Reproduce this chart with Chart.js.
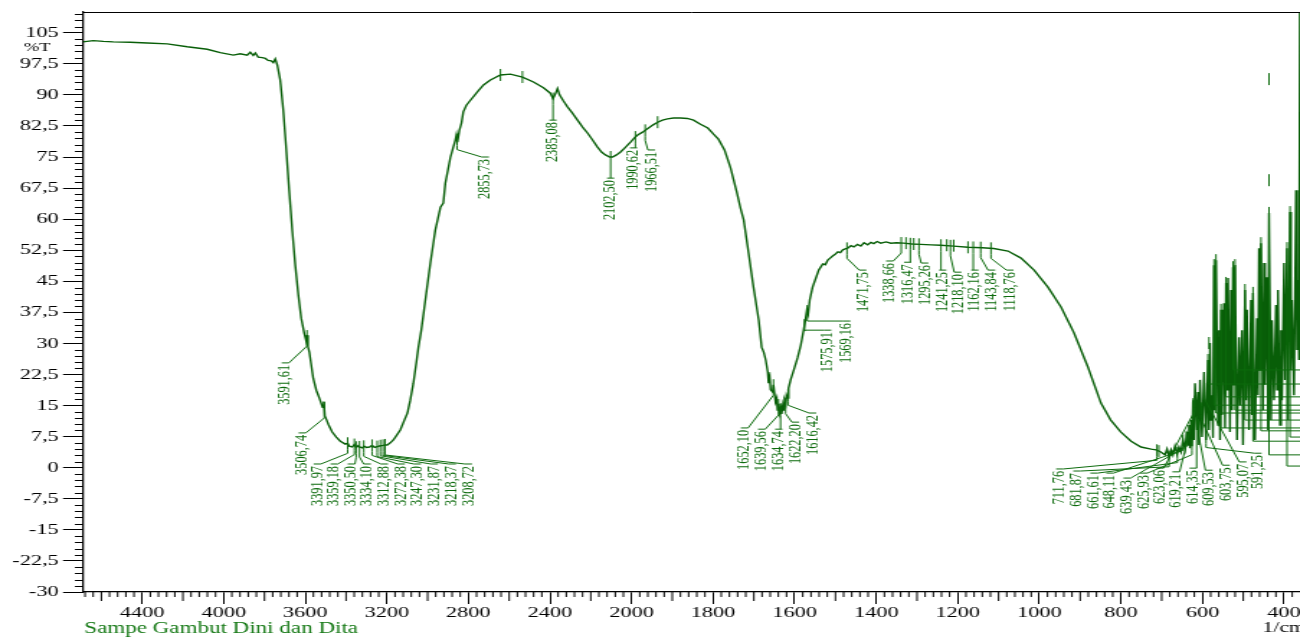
<!DOCTYPE html>
<html>
<head>
<meta charset="utf-8">
<script src="https://cdn.jsdelivr.net/npm/chart.js@4.4.1/dist/chart.umd.min.js"></script>
<style>
  html, body { margin: 0; padding: 0; background: #fff; overflow: hidden; }
  /* the spectrum sheet is printed with a horizontally stretched grid */
  #sheet { width: 903px; height: 637px; transform: scaleX(1.4396); transform-origin: 0 0; }
</style>
</head>
<body>
<div id="sheet"><canvas id="ftir" width="903" height="637"></canvas></div>
<script>
// ---- spectrum: wavenumber (1/cm) and transmittance (%T) ----
const wavenumber = [
  4690, 4640, 4590, 4542, 4459, 4375, 4277, 4179, 4081, 4017, 3953, 3919, 3885, 3870, 3855, 3845,
  3831, 3811, 3796, 3782, 3767, 3757, 3747, 3737, 3723, 3708, 3693, 3679, 3664, 3649, 3634, 3620,
  3605, 3595, 3591, 3587, 3580, 3561, 3546, 3531, 3515, 3509, 3504, 3495, 3487, 3468, 3448, 3428,
  3404, 3392, 3384, 3370, 3359, 3350, 3340, 3334, 3320, 3312, 3300, 3285, 3272, 3260, 3247, 3232,
  3218, 3208, 3198, 3183, 3168, 3148, 3134, 3114, 3099, 3085, 3070, 3055, 3045, 3031, 3011, 2986,
  2962, 2937, 2923, 2913, 2888, 2874, 2864, 2859, 2854, 2844, 2834, 2825, 2810, 2790, 2756, 2726,
  2692, 2643, 2594, 2535, 2481, 2432, 2398, 2385, 2373, 2363, 2353, 2334, 2314, 2290, 2265, 2240,
  2216, 2191, 2167, 2147, 2128, 2108, 2093, 2074, 2054, 2029, 2005, 1993, 1985, 1973, 1961, 1948,
  1936, 1924, 1912, 1897, 1880, 1863, 1848, 1831, 1813, 1799, 1787, 1772, 1757, 1742, 1733, 1725,
  1713, 1701, 1688, 1681, 1676, 1671, 1666, 1664, 1661, 1659, 1654, 1652, 1647, 1644, 1642, 1639,
  1637, 1634, 1632, 1629, 1627, 1625, 1622, 1620, 1617, 1615, 1610, 1602, 1593, 1585, 1578, 1573,
  1570, 1567, 1563, 1556, 1548, 1541, 1531, 1525, 1519, 1513, 1507, 1500, 1494, 1488, 1482, 1476,
  1470, 1462, 1455, 1446, 1438, 1430, 1421, 1413, 1406, 1398, 1389, 1376, 1364, 1350, 1333, 1312,
  1291, 1265, 1242, 1210, 1175, 1140, 1112, 1077, 1045, 1013, 979, 947, 915, 881, 849, 825,
  800, 775, 751, 726, 714, 702, 692, 687, 682, 677, 672.5, 667.5, 662.6, 657.7, 652.8, 647.9,
  643.0, 638.1, 635.6, 633.1, 630.7, 628.2, 625.8, 623.3, 620.9, 618.4, 613.5, 611.1, 608.6, 606.2, 601.3, 596.3,
  591.4, 586.5, 584.1, 581.6, 579.2, 576.7, 574.3, 571.8, 569.4, 566.9, 562.0, 559.6, 557.1, 554.7, 552.2, 547.3,
  544.8, 542.4, 539.9, 537.5, 532.6, 530.1, 527.7, 525.2, 522.8, 520.3, 515.4, 510.5, 508.1, 503.2, 500.7, 495.8,
  493.3, 490.9, 486.0, 481.1, 478.6, 476.2, 471.3, 466.4, 463.9, 461.5, 459.0, 456.6, 451.7, 449.2, 446.7, 441.8,
  439.4, 436.9, 432.0, 429.6, 424.7, 419.8, 417.3, 414.9, 410.0, 407.5, 405.1, 400.2, 397.7, 392.8, 390.3, 385.4,
  383.0, 380.5, 375.6, 370.7, 368.3, 365.8, 363.4, 361.0
];
const transmittance = [
  102.8, 103.1, 102.9, 102.8, 102.7, 102.5, 102.3, 101.6, 101.0, 100.2, 99.6, 99.9, 99.6, 100.3, 99.5, 100.1,
  99.1, 99.0, 98.8, 98.3, 98.2, 97.8, 98.7, 97.2, 93.6, 86.3, 76.7, 67.0, 57.4, 48.9, 41.7, 36.1,
  32.5, 30.5, 32.0, 29.2, 27.9, 21.6, 18.7, 16.8, 14.6, 16.0, 12.5, 11.5, 10.5, 8.6, 7.4, 6.4,
  5.7, 5.9, 5.2, 5.0, 5.6, 4.9, 5.3, 5.0, 4.8, 5.2, 4.9, 5.0, 5.4, 4.9, 5.1, 5.3,
  5.4, 5.5, 5.5, 6.0, 6.7, 8.1, 9.1, 11.5, 13.2, 16.3, 20.4, 25.5, 29.1, 33.2, 40.5, 49.6,
  57.4, 62.9, 63.9, 68.7, 75.0, 77.4, 79.1, 80.3, 78.6, 81.5, 83.2, 85.9, 87.5, 88.7, 90.7, 92.4,
  93.6, 94.8, 95.0, 94.3, 93.1, 91.7, 90.4, 89.1, 90.3, 91.5, 90.0, 88.5, 87.1, 85.6, 83.9, 82.2,
  80.8, 79.1, 77.4, 76.2, 75.5, 75.0, 75.0, 75.5, 76.2, 77.4, 78.6, 79.6, 80.3, 81.0, 81.8, 82.7,
  83.4, 83.9, 84.2, 84.4, 84.4, 84.3, 83.9, 82.9, 82.0, 80.5, 79.3, 76.7, 72.3, 66.5, 62.7, 59.8,
  51.8, 43.6, 35.6, 29.1, 27.9, 26.0, 23.1, 20.4, 21.6, 18.8, 18.3, 20.0, 15.9, 16.8, 13.9, 15.4,
  13.2, 14.4, 13.0, 15.1, 13.9, 16.3, 15.4, 17.5, 16.8, 19.2, 21.2, 23.6, 26.5, 29.6, 33.2, 36.1,
  38.1, 37.1, 40.5, 43.6, 45.8, 47.7, 49.2, 49.0, 50.1, 50.6, 51.1, 51.6, 52.1, 51.9, 52.6, 52.8,
  53.0, 53.6, 53.3, 53.9, 53.5, 54.3, 53.8, 54.4, 54.1, 54.6, 54.2, 54.5, 54.2, 54.3, 54.2, 54.0,
  53.9, 53.8, 53.7, 53.5, 53.2, 53.1, 52.9, 52.3, 50.6, 47.7, 43.6, 38.8, 32.5, 24.3, 15.6, 11.5,
  8.6, 6.4, 5.0, 4.5, 4.3, 3.8, 3.1, 4.5, 2.6, 4.3, 3.1, 5.2, 3.3, 5.0, 3.8, 6.7,
  4.5, 8.6, 5.5, 10.3, 4.7, 11.5, 5.2, 16.3, 6.7, 20.4, 9.1, 18.3, 5.5, 21.2, 7.4, 23.1,
  6.7, 26.0, 9.1, 30.1, 11.5, 17.5, 7.2, 48.9, 13.9, 50.1, 10.3, 33.2, 6.7, 38.1, 12.7, 39.7,
  9.6, 44.6, 18.8, 45.8, 8.6, 42.9, 13.9, 48.4, 20.0, 48.9, 6.7, 31.5, 15.1, 33.2, 5.5, 42.9,
  16.3, 38.1, 9.1, 40.5, 12.7, 42.2, 6.7, 36.1, 17.5, 53.0, 23.6, 54.2, 13.9, 49.4, 20.0, 46.0,
  9.1, 61.5, 11.5, 35.6, 16.3, 39.3, 18.8, 42.9, 10.3, 33.2, 16.3, 49.4, 21.2, 53.0, 11.5, 61.7,
  23.6, 40.5, 17.5, 67.0, 28.4, 45.3, 26.0, 125.0
];

// ---- axis ticks ----
const xTickLabels = [4400, 4000, 3600, 3200, 2800, 2400, 2000, 1800, 1600, 1400, 1200, 1000, 800, 600, 400];
const yTickValues = [-30, -22.5, -15, -7.5, 0, 7.5, 15, 22.5, 30, 37.5, 45, 52.5, 60, 67.5, 75, 82.5, 90, 97.5, 105];

// ---- picked peaks (1/cm) ----
const peakNu = [
  3591.61, 3506.74, 3391.97, 3359.18, 3350.50, 3334.10, 3312.88, 3272.38, 3247.30, 3231.87, 3218.37, 3208.72,
  2855.73, 2385.08, 2102.50, 1990.62, 1966.51,
  1652.10, 1639.56, 1634.74, 1622.20, 1616.42, 1575.91, 1569.16, 1471.75,
  1338.66, 1316.47, 1295.26, 1241.25, 1218.10, 1162.16, 1143.84, 1118.76,
  711.76, 681.87, 661.61, 648.11, 639.43, 625.93, 623.06, 619.21, 614.35, 609.53, 603.75, 595.07, 591.25
];
// where each peak's caption column sits (wavenumber) and where its top ends (%T)
const tagColumnNu = [
  3698, 3615, 3541, 3458, 3374, 3296, 3212, 3129, 3050, 2967, 2879, 2800,
  2717, 2385.08, 2102.5, 1995, 1951,
  1723, 1681, 1639, 1598, 1556, 1519, 1472, 1433,
  1367, 1323, 1281, 1237, 1200, 1158, 1117, 1072,
  950, 908, 866, 827, 785, 744, 704, 665, 623, 584, 542, 501, 464
];
const tagTopT = [
  25.3, 8.4, 0.9, 0.9, 0.9, 0.9, 0.9, 0.9, 0.9, 0.9, 0.9, 0.9,
  75.0, 83.9, 69.9, 77.2, 76.7,
  9.6, 9.3, 9.3, 11.0, 13.2, 33.2, 35.4, 47.7,
  49.9, 49.6, 49.4, 47.7, 47.2, 47.7, 47.7, 47.7,
  -0.3, -0.8, -1.3, -1.3, -2.5, -1.3, -0.1, -1.0, -0.1, -0.6, 0.6, 1.4, 3.5
];
// peaks of the noisy far-IR part, captioned beyond the right edge of the sheet
const farPeakNu = [586.5, 571.8, 566.9, 554.7, 542.4, 525.2, 520.3, 495.8, 476.2, 456.6, 436.9, 392.8, 385.4];
const farTagTopT = [20.2, 15.1, 13.2, 9.6, 17.1, 23.6, 13.9, 11.5, 6.4, 8.9, 3.1, 0.4, 7.4];
// unlabelled peak marks [1/cm, %T]
const markNu = [2643, 2535, 1936, 1327, 1308, 1227, 1210, 1175, 707, 584.1, 436.9, 436.9];
const markT  = [94.8, 94.3, 83.4, 54.2, 54.0, 53.7, 53.6, 53.2, 4.0, 30.1, 93.8, 69.4];

// The wavenumber axis is printed at half scale above 2000 1/cm.
const fold = nu => (nu > 2000 ? 2000 + (nu - 2000) / 2 : nu);
const unfold = u => (u > 2000 ? 2000 + (u - 2000) * 2 : u);
const comma = v => String(v).replace('.', ',');

function curveAt(nu) {
  for (let i = 0; i < wavenumber.length - 1; i++) {
    const a = wavenumber[i], b = wavenumber[i + 1];
    if (nu <= a && nu >= b) {
      const f = (a - nu) / (a - b);
      return transmittance[i] + f * (transmittance[i + 1] - transmittance[i]);
    }
  }
  return transmittance[transmittance.length - 1];
}

const INK = '#0d6b0d';
const LINE = '#085e08';

const sheetDecor = {
  id: 'sheetDecor',
  afterDraw(chart) {
    const { ctx, chartArea: a, scales: { x, y } } = chart;
    ctx.save();
    ctx.strokeStyle = '#000';
    ctx.lineWidth = 1;
    // frame line across the top
    ctx.beginPath();
    ctx.moveTo(a.left, a.top + 0.5);
    ctx.lineTo(a.right, a.top + 0.5);
    ctx.stroke();
    // minor ticks on %T axis
    ctx.beginPath();
    for (let k = 0; k <= 93; k++) {
      const v = -30 + k * 1.5;
      if (k % 5 === 0 || v > 110) continue;
      const py = Math.round(y.getPixelForValue(v)) + 0.5;
      ctx.moveTo(a.left, py);
      ctx.lineTo(a.left - 5.6, py);
    }
    // minor and middle ticks on the wavenumber axis
    for (let u = 380; u <= 3340; u += 20) {
      if (u % 200 === 0) continue;
      const px = x.getPixelForValue(u);
      const len = u % 100 === 0 ? 9 : 5;
      ctx.moveTo(px, a.bottom);
      ctx.lineTo(px, a.bottom + len);
    }
    ctx.stroke();

    // captions
    ctx.fillStyle = '#000';
    ctx.font = '13px "Liberation Serif"';
    ctx.textBaseline = 'middle';
    ctx.textAlign = 'left';
    ctx.fillText('%T', 16.5, 48);
    ctx.font = '15px "Liberation Serif"';
    ctx.fillText('1/cm', 877, 628);
    ctx.fillStyle = '#147814';
    ctx.font = '16px "Liberation Serif"';
    ctx.fillText('Sampe Gambut Dini dan Dita', 58.5, 629);
    ctx.restore();
  },
  afterDatasetsDraw(chart) {
    const { ctx, scales: { x, y } } = chart;
    ctx.save();
    ctx.strokeStyle = INK;
    ctx.fillStyle = INK;
    ctx.lineWidth = 1;
    ctx.font = '12.3px "Liberation Serif"';
    const c = 2.5;

    const tag = (nu, colNu, topT, far) => {
      const px = x.getPixelForValue(fold(nu));
      const py = y.getPixelForValue(curveAt(nu));
      const lx = x.getPixelForValue(fold(colNu));
      const ly = y.getPixelForValue(topT);
      const tb = py + 6;
      ctx.beginPath();
      ctx.moveTo(px, py - 6);
      ctx.lineTo(px, tb);
      if (Math.abs(lx - px) < c) {
        ctx.lineTo(px, ly);
        ctx.moveTo(lx - c, ly);
        ctx.lineTo(lx + c, ly);
      } else {
        const knee = far ? ly : Math.min(tb + 4, ly);
        const side = lx < px ? 1 : -1;
        ctx.lineTo(px, knee);
        ctx.lineTo(lx + side * c, ly);
        ctx.lineTo(lx - side * c, ly);
      }
      ctx.stroke();
      ctx.save();
      ctx.translate(lx, ly + 2);
      ctx.rotate(-Math.PI / 2);
      ctx.textAlign = 'right';
      ctx.textBaseline = 'middle';
      ctx.fillText(comma(nu.toFixed(2)), 0, 0);
      ctx.restore();
    };

    peakNu.forEach((nu, i) => tag(nu, tagColumnNu[i], tagTopT[i], false));
    farPeakNu.forEach((nu, i) => tag(nu, 330, farTagTopT[i], true));

    ctx.beginPath();
    markNu.forEach((nu, i) => {
      const px = x.getPixelForValue(fold(nu));
      const py = y.getPixelForValue(markT[i]);
      ctx.moveTo(px, py - 6);
      ctx.lineTo(px, py + 6);
    });
    ctx.stroke();
    ctx.restore();
  }
};

new Chart(document.getElementById('ftir'), {
  type: 'line',
  data: {
    datasets: [{
      data: wavenumber.map((nu, i) => ({ x: fold(nu), y: transmittance[i] })),
      borderColor: LINE,
      borderWidth: 1.4,
      pointRadius: 0,
      tension: 0,
      fill: false
    }]
  },
  options: {
    responsive: false,
    devicePixelRatio: 1,
    animation: false,
    events: [],
    layout: { padding: { top: 12, right: 0, bottom: 0, left: 0 } },
    plugins: { legend: { display: false }, tooltip: { enabled: false } },
    scales: {
      x: {
        type: 'linear',
        reverse: true,
        min: 361,
        max: 3345,
        afterBuildTicks: s => { s.ticks = xTickLabels.map(nu => ({ value: fold(nu) })); },
        afterFit: s => { s.height = 45; s.paddingLeft = 0; s.paddingRight = 0; },
        border: { display: true, color: '#000', width: 1.3 },
        grid: { drawOnChartArea: false, drawTicks: true, tickLength: 12, tickColor: '#000', tickWidth: 1 },
        ticks: {
          autoSkip: false, maxRotation: 0, minRotation: 0, padding: 0, color: '#000',
          font: { family: 'Liberation Serif', size: 15.5 },
          callback: v => String(Math.round(unfold(v)))
        }
      },
      y: {
        type: 'linear',
        min: -30,
        max: 110,
        afterBuildTicks: s => { s.ticks = yTickValues.map(v => ({ value: v })); },
        afterFit: s => { s.width = 57.65; s.paddingTop = 0; s.paddingBottom = 0; },
        border: { display: true, color: '#000', width: 1.3 },
        grid: { drawOnChartArea: false, drawTicks: true, tickLength: 13.9, tickColor: '#000', tickWidth: 1 },
        ticks: {
          padding: 3, color: '#000',
          font: { family: 'Liberation Serif', size: 15.5 },
          callback: v => comma(v)
        }
      }
    }
  },
  plugins: [sheetDecor]
});
</script>
</body>
</html>
